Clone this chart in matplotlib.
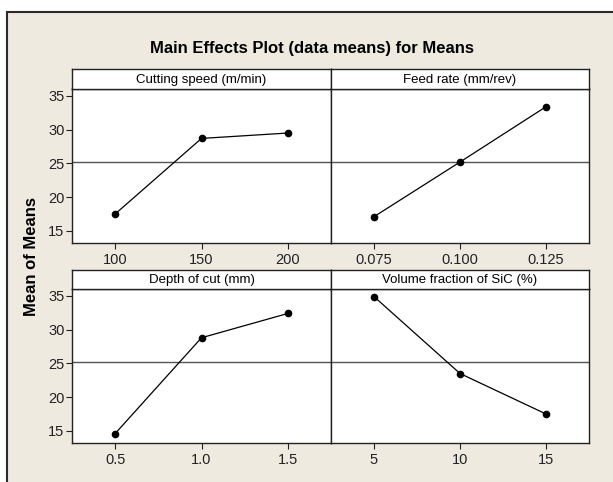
import numpy as np
import matplotlib
matplotlib.use("Agg")
import matplotlib.pyplot as plt
from matplotlib.patches import Rectangle

plt.rcParams['font.family'] = ['Liberation Sans Narrow', 'Liberation Sans', 'DejaVu Sans']

# datos
factores = ["Cutting speed (m/min)", "Feed rate (mm/rev)",
            "Depth of cut (mm)", "Volume fraction of SiC (%)"]
niveles_vc = [100, 150, 200]
niveles_f = [0.075, 0.100, 0.125]
niveles_ap = [0.5, 1.0, 1.5]
niveles_sic = [5, 10, 15]
medias_vc = [17.5, 28.7, 29.5]
medias_f = [17.1, 25.2, 33.4]
medias_ap = [14.6, 28.8, 32.4]
medias_sic = [34.9, 23.5, 17.5]
etiquetas_vc = ["100", "150", "200"]
etiquetas_f = ["0.075", "0.100", "0.125"]
etiquetas_ap = ["0.5", "1.0", "1.5"]
etiquetas_sic = ["5", "10", "15"]
media_global = 25.2

W, H = 613, 482
fig = plt.figure(figsize=(W/100, H/100), dpi=100)
fig.patch.set_facecolor('white')

def px(x0, y0, x1, y1):
    # rectangulo en pixeles -> coordenadas de figura
    return [x0/W, 1 - y1/H, (x1 - x0)/W, (y1 - y0)/H]

# marco beige
fig.patches.append(Rectangle((7/W, -0.1), 1.2, 1 - 11.5/H + 0.1, transform=fig.transFigure,
                             facecolor='#eeeae0', edgecolor='#2a2a2a', linewidth=1.5, zorder=-10))

fig.text(312/W, 1 - 48/H, "Main Effects Plot (data means) for Means", ha='center', va='center',
         fontsize=12, fontweight='bold')
fig.text(31/W, 1 - 257/H, "Mean of Means", ha='center', va='center', rotation=90,
         fontsize=12, fontweight='bold', family=['Liberation Sans', 'DejaVu Sans'])

paneles = [
    (niveles_vc, medias_vc, etiquetas_vc, factores[0], 72, 331, 68.5, 88.5, 243),
    (niveles_f, medias_f, etiquetas_f, factores[1], 331, 589, 68.5, 88.5, 243),
    (niveles_ap, medias_ap, etiquetas_ap, factores[2], 72, 331, 270, 288.5, 443),
    (niveles_sic, medias_sic, etiquetas_sic, factores[3], 331, 589, 270, 288.5, 443),
]

for j, (x, y, etq, nombre, x0, x1, yh, yp, yb) in enumerate(paneles):
    paso = x[1] - x[0]
    ax = fig.add_axes(px(x0, yp, x1, yb))
    ax.set_facecolor('white')
    ax.axhline(media_global, color='#555555', linewidth=1.0, zorder=1)
    ax.plot(x, y, 'k-', linewidth=0.9, marker='o', markersize=4.5, zorder=3)
    ax.set_xlim(x[0] - paso/2, x[-1] + paso/2)
    ax.set_ylim(13.2, 36.1)
    ax.set_xticks(x)
    ax.set_xticklabels(etq)
    ax.set_yticks([15, 20, 25, 30, 35])
    if j % 2 == 0:
        ax.tick_params(axis='y', length=4, width=0.8, pad=1.5, labelsize=10.5, colors='#222222')
    else:
        ax.tick_params(axis='y', left=False, labelleft=False)
    ax.tick_params(axis='x', length=4, width=0.8, pad=3, labelsize=10.5, colors='#222222')
    for s in ax.spines.values():
        s.set_linewidth(1.0)
        s.set_color('#222222')

    axh = fig.add_axes(px(x0, yh, x1, yp))
    axh.set_facecolor('white')
    axh.set_xticks([])
    axh.set_yticks([])
    for s in axh.spines.values():
        s.set_linewidth(1.0)
        s.set_color('#222222')
    axh.text(0.5, 0.45, nombre, ha='center', va='center', fontsize=9.5, transform=axh.transAxes)

fig.savefig("out.png", dpi=100)
